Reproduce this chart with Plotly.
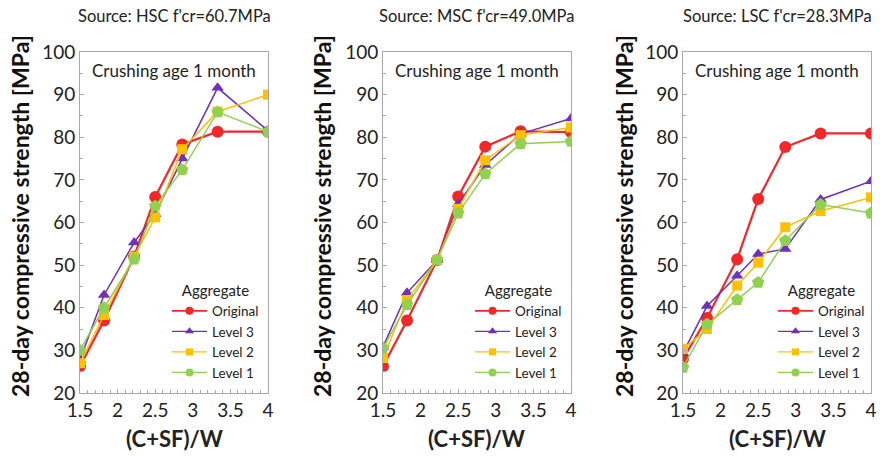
import plotly.graph_objects as go

# (C+SF)/W ratios tested
ratio = [1.5, 1.82, 2.22, 2.5, 2.86, 3.33, 4.0]

titles = ["Source: HSC f'cr=60.7MPa", "Source: MSC f'cr=49.0MPa", "Source: LSC f'cr=28.3MPa"]
series_names = ["Original", "Level 3", "Level 2", "Level 1"]

# 28-day compressive strength [MPa]
hsc_original = [26.3, 37.0, 52.0, 66.0, 78.3, 81.3, 81.3]
hsc_level3 = [27.8, 43.0, 55.3, 62.0, 75.0, 91.6, 81.5]
hsc_level2 = [27.0, 38.3, 52.0, 61.2, 77.2, 86.0, 90.0]
hsc_level1 = [30.0, 40.0, 51.4, 63.8, 72.4, 85.9, 81.3]

msc_original = [26.3, 37.0, 51.2, 66.1, 77.8, 81.4, 81.2]
msc_level3 = [30.8, 43.5, 51.2, 64.3, 73.5, 80.8, 84.4]
msc_level2 = [28.2, 41.8, 51.2, 63.2, 74.6, 80.5, 82.3]
msc_level1 = [30.5, 40.7, 51.2, 62.2, 71.4, 78.5, 79.0]

lsc_original = [28.0, 37.6, 51.4, 65.5, 77.7, 80.9, 80.9]
lsc_level3 = [29.4, 40.4, 47.5, 52.6, 53.8, 65.4, 69.7]
lsc_level2 = [30.3, 35.0, 45.2, 50.6, 58.9, 62.7, 65.9]
lsc_level1 = [26.0, 36.1, 41.9, 45.9, 55.7, 64.2, 62.2]

panels = [
    [hsc_original, hsc_level3, hsc_level2, hsc_level1],
    [msc_original, msc_level3, msc_level2, msc_level1],
    [lsc_original, lsc_level3, lsc_level2, lsc_level1],
]

colors = ["#f0282a", "#7030b8", "#ffc000", "#92d050"]
symbols = ["circle", "triangle-up", "square", "pentagon"]
msizes = [12, 11, 10, 13]
lwidths = [2.2, 1.5, 1.5, 1.5]
legend_msizes = [8, 8, 7, 8]

W, H = 880, 457
plot_left = [80, 383, 683]
plot_w = 188
plot_top, plot_bottom = 52, 393

FONT = "Lato"
fig = go.Figure()

for p, series in enumerate(panels):
    ax = "" if p == 0 else str(p + 1)
    leg = "legend" if p == 0 else "legend" + str(p + 1)
    for i, vals in enumerate(series):
        fig.add_trace(go.Scatter(
            x=ratio, y=vals, mode="lines+markers", name=series_names[i],
            xaxis="x" + ax, yaxis="y" + ax, showlegend=False,
            line=dict(color=colors[i], width=lwidths[i]),
            marker=dict(symbol=symbols[i], size=msizes[i], color=colors[i]),
        ))
    # legend entries with compact symbols
    for i in range(4):
        fig.add_trace(go.Scatter(
            x=[None], y=[None], mode="lines+markers", name=series_names[i],
            xaxis="x" + ax, yaxis="y" + ax, legend=leg, showlegend=True,
            line=dict(color=colors[i], width=lwidths[i] * 0.8),
            marker=dict(symbol=symbols[i] if i != 3 else "circle",
                        size=legend_msizes[i], color=colors[i]),
        ))

layout = dict(
    width=W, height=H, margin=dict(l=0, r=0, t=0, b=0, autoexpand=False),
    paper_bgcolor="white", plot_bgcolor="white",
    font=dict(family=FONT, color="#222222"),
    annotations=[],
)


def note(text, x_px, y_px, size, color="#222222", angle=0):
    return dict(text=text, x=x_px / W, y=1 - y_px / H, xref="paper", yref="paper",
                xanchor="center", yanchor="middle", textangle=angle,
                showarrow=False, font=dict(size=size, family=FONT, color=color))


axis_line = "#a8a8a8"
for p in range(3):
    ax = "" if p == 0 else str(p + 1)
    x0 = plot_left[p] / W
    x1 = (plot_left[p] + plot_w) / W
    layout["xaxis" + ax] = dict(
        domain=[x0, x1], range=[1.5, 4], anchor="y" + ax, automargin=False,
        tickvals=[1.5, 2, 2.5, 3, 3.5, 4], ticktext=["1.5", "2", "2.5", "3", "3.5", "4"],
        ticks="inside", ticklen=4, tickcolor=axis_line,
        minor=dict(dtick=0.1, tick0=1.5, ticks="inside", ticklen=3, tickcolor=axis_line),
        showline=True, linecolor=axis_line, linewidth=1, mirror=True,
        showgrid=False, zeroline=False,
        tickfont=dict(size=19, family=FONT, color="#222222"),
    )
    layout["yaxis" + ax] = dict(
        domain=[1 - plot_bottom / H, 1 - plot_top / H], range=[20, 100], anchor="x" + ax,
        automargin=False,
        dtick=10, ticks="inside", ticklen=4, tickcolor=axis_line,
        minor=dict(dtick=5, ticks="inside", ticklen=3, tickcolor=axis_line),
        showline=True, linecolor=axis_line, linewidth=1, mirror=True,
        showgrid=False, zeroline=False,
        tickfont=dict(size=19, family=FONT, color="#222222"),
    )
    cx = plot_left[p] + plot_w / 2
    layout["annotations"] += [
        note(titles[p], cx, 16, 16.5),
        note("Crushing age 1 month", cx, 70, 17),
        note("<b>(C+SF)/W</b>", cx, 438, 22),
        note("<b>28-day compressive strength [MPa]</b>", 20 + 302 * p, 216, 23,
             color="#111111", angle=-90),
    ]
    leg = "legend" if p == 0 else "legend" + str(p + 1)
    layout[leg] = dict(
        x=(167 + 303 * p) / W, y=1 - 276 / H, xanchor="left", yanchor="top",
        xref="paper", yref="paper",
        bgcolor="rgba(0,0,0,0)", borderwidth=0,
        title=dict(text="Aggregate", side="top center", font=dict(size=15, family=FONT, color="#222222")),
        font=dict(size=13.5, family=FONT, color="#222222"),
        itemwidth=35, tracegroupgap=0,
    )

fig.update_layout(**layout)
fig.write_html("out.html")
